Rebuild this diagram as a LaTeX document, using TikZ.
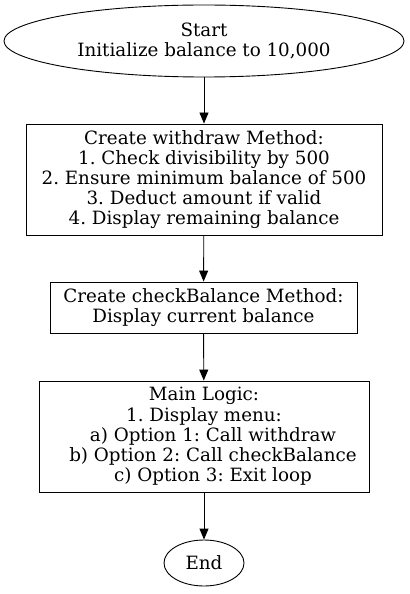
\documentclass[tikz,border=0pt]{standalone}
\usepackage{fontspec}
\setmainfont{DejaVu Serif}
\usetikzlibrary{shapes.geometric,arrows.meta}
\begin{document}
\frenchspacing
\begin{tikzpicture}[x=1bp,y=1bp,
  every node/.style={font=\fontsize{18.3bp}{20.2bp}\selectfont, align=center, inner sep=0pt, draw=black, line width=0.9bp},
  oval/.style={ellipse},
  box/.style={rectangle},
  flow/.style={-{Triangle[length=11bp,width=9bp]}, line width=0.9bp}]
\useasboundingbox (0,0) rectangle (409,-594);
\node[oval, minimum width=400bp, minimum height=72bp] (start) at (204,-41) {Start\\Initialize balance to 10,000};
\node[box, minimum width=356bp, minimum height=111bp] (withdraw) at (204,-179.5) {Create withdraw Method:\\1. Check divisibility by 500\\2. Ensure minimum balance of 500\\3. Deduct amount if valid\\4. Display remaining balance};
\node[box, minimum width=307bp, minimum height=51bp] (check) at (203.5,-307.5) {Create checkBalance Method:\\Display current balance};
\node[box, minimum width=330bp, minimum height=111bp] (main) at (204,-436.5) {Main Logic:\\1. Display menu:\hspace*{6bp}\\\hspace*{18bp}a) Option 1: Call withdraw\\\hspace*{18bp}b) Option 2: Call checkBalance\\\hspace*{18bp}c) Option 3: Exit loop};
\node[oval, minimum width=80bp, minimum height=46bp] (end) at (204,-563) {End};
\draw[flow] (start) -- (withdraw);
\draw[flow] (withdraw) -- (check);
\draw[flow] (check) -- (main);
\draw[flow] (main) -- (end);
\end{tikzpicture}
\end{document}
